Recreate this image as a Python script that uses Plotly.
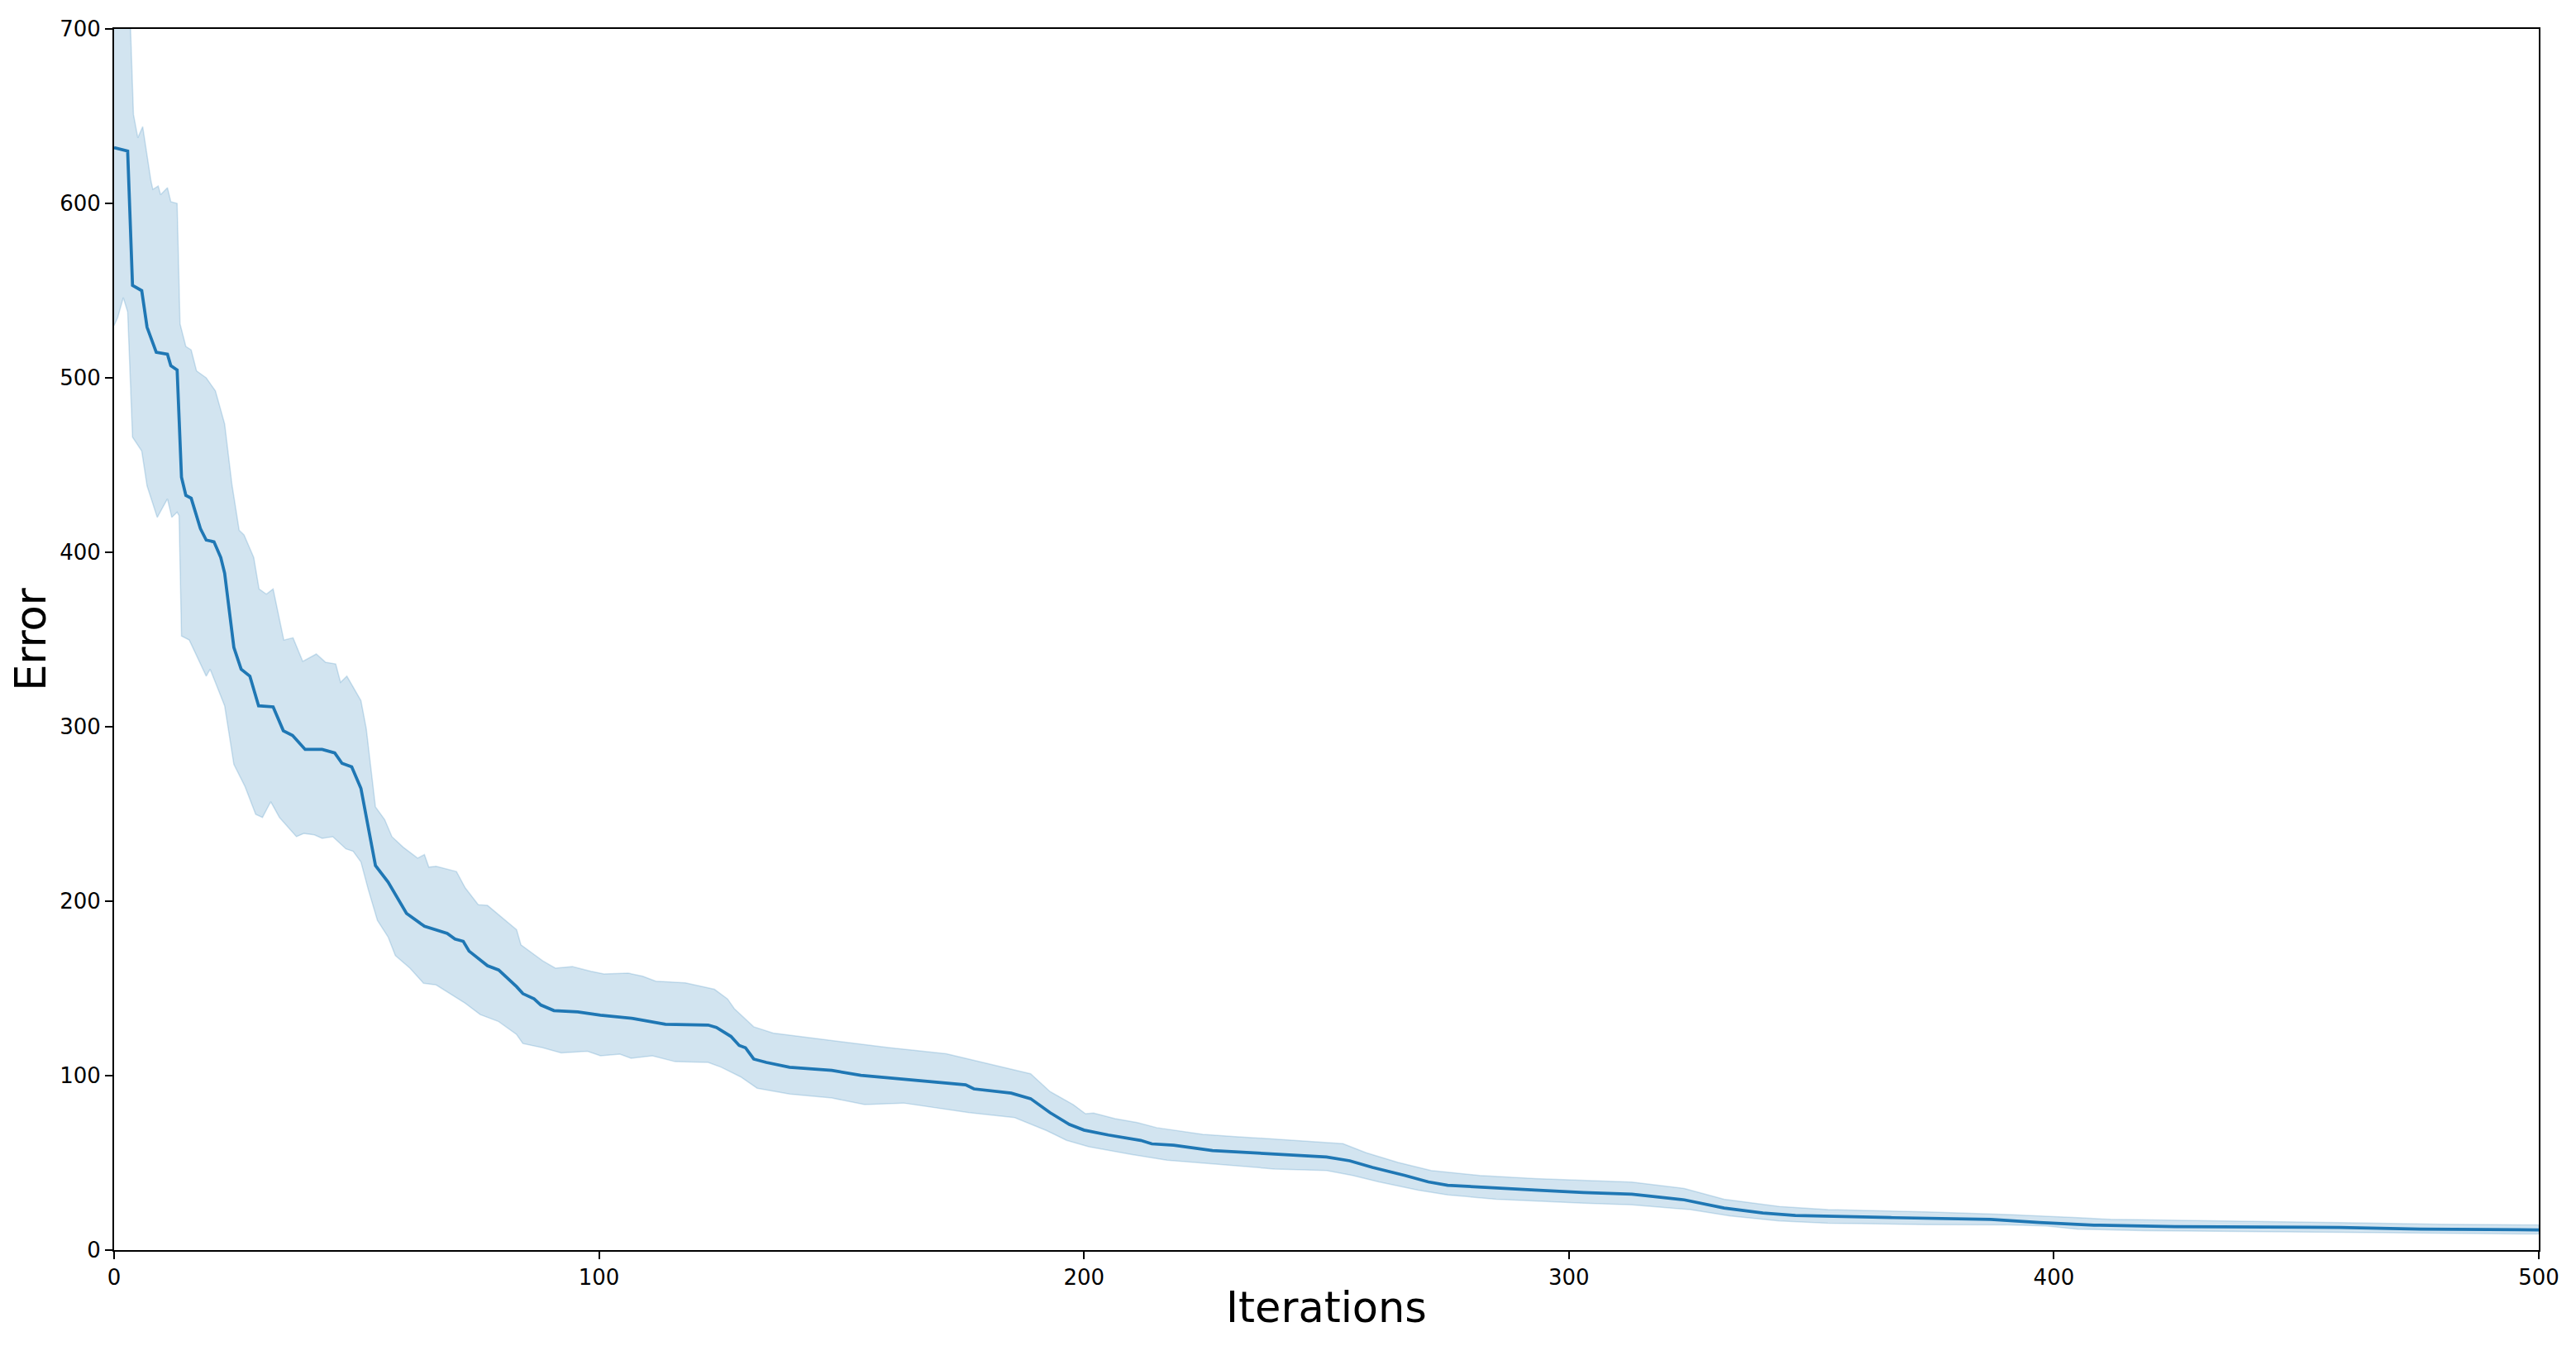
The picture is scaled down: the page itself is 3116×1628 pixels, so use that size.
import plotly.graph_objects as go

# ---- data (iteration, error) ----
mean_x = [0, 2.8, 3.8, 5.7, 6.8, 8.7, 11, 11.7, 13, 13.9, 14.8, 15.9, 17.8, 19, 20.6, 22, 22.8,
          24.7, 26.2, 28, 29.8, 32.8, 34.9, 36.8, 39.4, 42.9, 45.5, 47, 49, 50.9, 53.9, 56.5,
          60.3, 64, 68.7, 70.3, 72, 73.2, 77, 79.3, 83, 84.3, 86.6, 88, 90.7, 95.6, 100.3, 107,
          113.7, 122.5, 124.2, 127.2, 128.9, 130.2, 131.9, 134.5, 139.3, 148, 154, 165.5, 175.6,
          177.3, 185, 189, 193, 197, 200, 205, 211.7, 214, 218.5, 226.5, 238, 250, 254.8, 259.5,
          266.2, 271, 275, 283, 293, 303, 313, 323.8, 332, 340, 346.7, 366.8, 387, 397, 408.3,
          425, 459, 475.6, 500]
mean_y = [632, 630, 553, 550, 529, 514.6, 513.5, 507, 504.5, 443, 432.6, 431, 413.6, 407, 406, 397, 388,
          345.5, 333, 329, 312, 311.4, 297.7, 295, 287, 287, 285, 279, 277, 264.7, 220.4, 211,
          193, 185.6, 181.5, 178.3, 177, 171.4, 163, 160.6, 151, 147, 144, 140.5, 137.3, 136.5, 134.7, 132.8,
          129.5, 129, 127.6, 122.5, 117.3, 116, 109.5, 107.6, 104.8, 103, 100.2, 97.4, 94.7,
          92.4, 90, 86.8, 78.8, 72, 68.8, 66, 62.9, 60.9, 60.1, 57.1, 55.3, 53.4, 51.2, 47.4,
          42.8, 39.1, 37.2, 35.8, 34.4, 33, 32, 28.8, 24.1, 21.3, 19.9, 18.6, 17.6, 15.8, 14.3,
          13.5, 13, 12, 11.6]

upper_x = [0, 3, 3.4, 4, 4.9, 5.9, 7.6, 8, 9.1, 9.6, 11, 11.7, 13, 13.6, 14.8, 15.9, 17, 19, 20.9,
           22.8, 24.3, 25.8, 26.8, 28.8, 29.9, 31.4, 32.8, 35, 36.9, 38.9, 41.7, 43.6, 45.7, 46.7,
           48, 50.9, 52, 53.9, 55.8, 57.3, 59.6, 62.6, 64, 64.9, 66.4, 70.6, 72.4, 75.1, 77, 83,
           83.9, 88.4, 91, 94.5, 98.3, 101, 106, 109, 111.7, 117.8, 123.8, 126.5, 127.9, 131.9,
           135.9, 142.6, 151.4, 160, 171.6, 176.3, 185.7, 189, 193, 197.8, 200.3, 202, 206.4, 211,
           215, 224.5, 231.2, 241.3, 250.7, 253.4, 258.2, 264.8, 271.6, 281.6, 293, 303, 313,
           323.8, 332, 343.4, 353.4, 373.6, 390.5, 405, 411.7, 459, 480, 500]
upper_y = [780, 730, 700, 651, 637.6, 644, 613, 608, 610, 605, 609, 601, 600, 531, 518, 516, 504, 500, 492.5,
           473.6, 439, 412.6, 410, 397, 379, 376, 379, 349.7, 351, 337.5, 341.7, 337, 336, 325.5,
           329, 315, 299, 254, 246.8, 237, 231, 224.7, 226.7, 219.5, 220, 217, 207.7, 198, 197.6, 183.7,
           175, 165.8, 161.6, 162.5, 159.8, 158.3, 158.8, 157, 154.2, 153.2, 149.5, 144, 138.4, 128,
           124.4, 122, 118.8, 116, 112.6, 109.5, 103.4, 101.1, 90.9, 83.4, 78.2, 78.6, 75.4, 73.1,
           70.2, 66.4, 65.1, 63.3, 61.4, 61, 55.8, 50.2, 45.6, 42.8, 41, 40, 39,
           35.3, 29.2, 25, 23.2, 21.9, 20.4, 18.6, 17.6, 15.8, 14.8, 14.4]

lower_x = [0, 0.75, 1.9, 2.8, 3.8, 5.7, 6.8, 8.9, 11, 11.9, 13, 13.4, 13.9, 15.5, 19, 19.8, 22.8,
           24.7, 27, 29.2, 30.6, 32.3, 34.1, 37.6, 39.1, 41.3, 42.9, 45.1, 47.8, 49.3, 50.9, 52.4,
           54.3, 56.5, 58, 61, 63.8, 66.4, 72.4, 75.5, 79.3, 83, 84.3, 88.4, 92.2, 97.6, 100.3,
           104.3, 106.6, 111, 115.7, 122.5, 125.2, 129.2, 132.6, 139.3, 148, 154.8, 162.8, 176.3,
           185.7, 192.3, 196.4, 201, 204.3, 209.7, 217.1, 227.9, 239.3, 250, 255.4, 260.8, 268.9,
           275, 285, 303, 313, 325, 333.3, 343.4, 353.4, 373.6, 390.5, 398.3, 405, 418.5, 459, 500]
lower_y = [530, 534.6, 546, 537.8, 466, 458, 438, 420, 430.6, 420, 423, 421, 352, 349.7, 329, 333, 312,
           278.4, 265.7, 249.8, 248, 257, 248, 237, 238.8, 238, 236, 237, 230, 228.6, 222.5, 206.8,
           189, 179.5, 168.8, 161.6, 153, 152, 141.5, 135, 131, 123.6, 118.4, 116, 113, 114, 111.4,
           112.3, 110, 111.4, 108, 107.6, 104.8, 99.3, 92.8, 89.5, 87.2, 83.4, 84.3, 78.8,
           75.9, 68.5, 62.9, 59.2, 57.7, 54.9, 51.5, 49, 46.5, 45.6, 42.8, 39.1, 34.4,
           31.6, 29.2, 26.9, 26, 23.2, 19.5, 16.7, 15.4, 14.6, 14.4, 13.9, 12, 11.1, 10.2, 9.2]

x_ticks = [0, 100, 200, 300, 400, 500]
y_ticks = [0, 100, 200, 300, 400, 500, 600, 700]

BLUE = "#1f77b4"
FONT = "DejaVu Sans"

fig = go.Figure()

# confidence band as a closed polygon
fig.add_trace(go.Scatter(
    x=upper_x + lower_x[::-1],
    y=upper_y + lower_y[::-1],
    fill="toself",
    fillcolor="rgba(31,119,180,0.2)",
    line=dict(color="rgba(31,119,180,0.2)", width=1.5),
    mode="lines",
    hoverinfo="skip",
    showlegend=False,
))

fig.add_trace(go.Scatter(
    x=mean_x, y=mean_y, mode="lines",
    line=dict(color=BLUE, width=3.75),
    showlegend=False,
))

axis_common = dict(
    showline=True, linecolor="black", linewidth=2, mirror=True,
    ticks="outside", ticklen=9, tickwidth=2, tickcolor="black",
    showgrid=False, zeroline=False,
    tickfont=dict(family=FONT, size=26, color="black"),
)

fig.update_layout(
    width=3100, height=1612,
    margin=dict(l=130, r=30, t=18, b=108),
    plot_bgcolor="white", paper_bgcolor="white",
    font=dict(family=FONT, color="black"),
    xaxis=dict(range=[0, 500], tickvals=x_ticks, ticktext=[str(v) for v in x_ticks],
               title=dict(text="Iterations", font=dict(family=FONT, size=51), standoff=4),
               **axis_common),
    yaxis=dict(range=[0, 700], tickvals=y_ticks, ticktext=[str(v) for v in y_ticks],
               title=dict(text="Error", font=dict(family=FONT, size=51), standoff=10),
               **axis_common),
)

fig.write_html("out.html")
